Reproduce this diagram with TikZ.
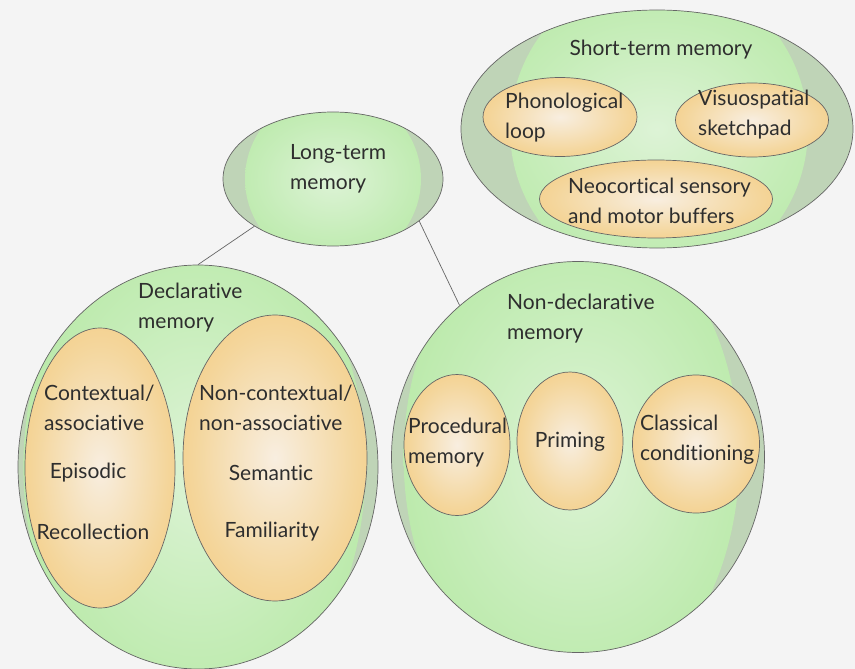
\documentclass[tikz,border=0pt]{standalone}
\usepackage{fontspec}
\setmainfont{Lato}[RawFeature={-liga;-clig;-calt;-dlig}]
\usetikzlibrary{shapes.geometric,calc}
\definecolor{bg}{HTML}{F4F4F4}
\definecolor{gin}{HTML}{DDF3D6}
\definecolor{gmid}{HTML}{C6EDB9}
\definecolor{gout}{HTML}{AFE69B}
\definecolor{crescent}{HTML}{BFD4B7}
\definecolor{oin}{HTML}{F8EEE0}
\definecolor{omid}{HTML}{F4D69C}
\definecolor{oout}{HTML}{F2C672}
\definecolor{edge}{HTML}{666666}
\definecolor{txt}{HTML}{2E2E2E}
\pgfdeclareradialshading{greensh}{\pgfpoint{0bp}{0bp}}{color(0bp)=(gin); color(16bp)=(gmid); color(34bp)=(gout); color(50bp)=(gout)}
\pgfdeclareradialshading{orangesh}{\pgfpoint{0bp}{0bp}}{color(0bp)=(oin); color(22bp)=(omid); color(38bp)=(oout); color(50bp)=(oout)}
\tikzset{
  greenball/.style n args={3}{ellipse, draw=edge, line width=0.7pt, inner sep=0pt, fill=crescent,
    path picture={
      \shade[shading=greensh] let \p1=($(path picture bounding box.north east)-(path picture bounding box.center)$) in
        ($(path picture bounding box.center)+(#3*\x1,0pt)$) ellipse [x radius=#1*\x1, y radius=#2*\y1];
    }},
  orangeball/.style={ellipse, draw=edge, line width=0.7pt, inner sep=0pt, shading=orangesh},
  lbl/.style={align=left, font=\fontsize{21}{30}\selectfont, text=txt, inner sep=0pt},
  conn/.style={draw=edge, line width=0.7pt},
}
\begin{document}
\begin{tikzpicture}[x=1pt,y=-1pt]
\fill[bg] (0,0) rectangle (855,669);
\useasboundingbox (0,0) rectangle (855,669);

% green containers
\node[greenball={0.80}{1.3}{0}, minimum width=220pt, minimum height=134pt] (ltm) at (333,179) {};
\node[greenball={0.76}{1.3}{0.01}, minimum width=392pt, minimum height=238pt] (stm) at (657,129) {};
\node[greenball={0.95}{1.25}{-0.02}, minimum width=360pt, minimum height=404pt] (decl) at (198,467) {};
\node[greenball={0.90}{1.25}{-0.035}, minimum width=373pt, minimum height=391pt] (nondecl) at (578,457) {};

% orange items
\node[orangeball, minimum width=154pt, minimum height=79pt] (phon) at (560,117) {};
\node[orangeball, minimum width=153pt, minimum height=74pt] (visuo) at (752,120) {};
\node[orangeball, minimum width=233pt, minimum height=78pt] (neo) at (656,199) {};
\node[orangeball, minimum width=150pt, minimum height=280pt] (ctx) at (100,468) {};
\node[orangeball, minimum width=184pt, minimum height=286pt] (nctx) at (275,458) {};
\node[orangeball, minimum width=106pt, minimum height=141pt] (proc) at (457,445) {};
\node[orangeball, minimum width=106pt, minimum height=138pt] (prim) at (570,441) {};
\node[orangeball, minimum width=127pt, minimum height=138pt] (class) at (696,444) {};

% connectors
\draw[conn] (ltm.211) -- (decl.90);
\draw[conn] (ltm.334) -- (nondecl.128);

% labels
\node[lbl, anchor=west] (tltm) at (290,169) {Long-term\\memory};
\node[lbl] (tstm) at (661,50) {Short-term memory};
\node[lbl, anchor=west] (tphon) at (505,118) {Phonological\\loop};
\node[lbl, anchor=west] (tvisuo) at (698,115) {Visuospatial\\sketchpad};
\node[lbl, anchor=west] (tneo) at (568,201) {Neocortical sensory\\and motor buffers};
\node[lbl, anchor=west] (tdecl) at (138,308) {Declarative\\memory};
\node[lbl, anchor=west] (tctx) at (44,408) {Contextual/\\associative};
\node[lbl] (tepi) at (88,473) {Episodic};
\node[lbl] (trec) at (93,532) {Recollection};
\node[lbl, anchor=west] (tnctx) at (199,408) {Non-contextual/\\non-associative};
\node[lbl] (tsem) at (271,473) {Semantic};
\node[lbl] (tfam) at (272,532) {Familiarity};
\node[lbl, anchor=west] (tnondecl) at (507,319) {Non-declarative\\memory};
\node[lbl, anchor=west] (tproc) at (408,443) {Procedural\\memory};
\node[lbl] (tprim) at (570,442) {Priming};
\node[lbl, anchor=west] (tclass) at (640,440) {Classical\\conditioning};
\end{tikzpicture}
\end{document}
